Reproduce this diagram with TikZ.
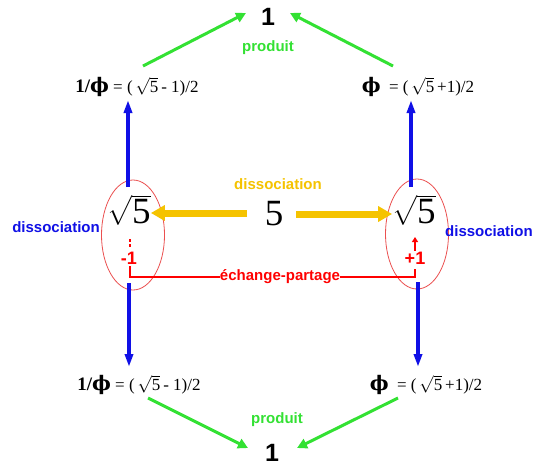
\documentclass[tikz,border=0pt]{standalone}
\usepackage{amsmath}
\usepackage{fontspec}
\setmainfont{Liberation Serif}
\setsansfont{Liberation Sans}
\newfontfamily\phfont{DejaVu Serif}
\usetikzlibrary{arrows.meta,shapes.geometric}
\definecolor{grn}{RGB}{51,225,51}
\definecolor{blu}{RGB}{16,16,230}
\definecolor{yel}{RGB}{245,195,0}
\definecolor{rd}{RGB}{255,0,0}
\definecolor{ellc}{RGB}{235,80,80}
\newcommand{\myphi}{{\phfont\bfseries\fontsize{20}{20}\selectfont ϕ}}
\newcommand{\rtfive}{$\sqrt{\text{5}}$}
\tikzset{
 lbl/.style={font=\sffamily\bfseries\fontsize{15}{15}\selectfont, inner sep=0},
 onebox/.style={font=\sffamily\bfseries\fontsize{25}{25}\selectfont, inner sep=0},
 frm/.style={font=\fontsize{17}{17}\selectfont, inner sep=0},
 bigbox/.style={font=\fontsize{37}{37}\selectfont, inner sep=0},
 garrow/.style={draw=grn, line width=3pt, -{Triangle[length=10pt,width=10pt]}},
 barrow/.style={draw=blu, line width=4pt, -{Triangle[length=13pt,width=8pt]}},
 yarrow/.style={draw=yel, line width=7pt, -{Triangle[length=14pt,width=15pt]}},
 rline/.style={draw=rd, line width=1.8pt},
 ellbox/.style={draw=ellc, line width=0.8pt, ellipse, minimum width=63pt, minimum height=110pt, inner sep=0}
}
\begin{document}
\begin{tikzpicture}[x=1pt,y=-1pt]
\useasboundingbox[fill=white] (0,0) rectangle (551,469);
% top
\node[onebox] (oneT) at (268,17) {1};
\node[lbl, text=grn] (prodT) at (268,48) {produit};
\node[frm] (fTL) at (137,87) {{\bfseries\fontsize{19}{19}\selectfont 1/}\myphi\ = (\,\rtfive\,- 1)/2};
\node[frm] (fTR) at (418,87) {\myphi\ \ = (\,\rtfive\,+1)/2};
\coordinate (gT1) at (143,66);
\coordinate (gT2) at (393,66);
\coordinate (gT1e) at (246,13);
\coordinate (gT2e) at (290,13);
\draw[garrow] (gT1) -- (gT1e);
\draw[garrow] (gT2) -- (gT2e);
% ellipses
\node[ellbox] (eL) at (133,235) {};
\node[ellbox] (eR) at (417,234) {};
\node[bigbox] (sL) at (129,210) {\rtfive};
\node[bigbox] (sR) at (414,210) {\rtfive};
\node[bigbox] (five) at (274,214) {5};
\node[lbl, text=yel] (dissY) at (278,184) {dissociation};
\node[lbl, text=blu, anchor=east] (dissL) at (100,227) {dissociation};
\node[lbl, text=blu, anchor=west] (dissR) at (445,231) {dissociation};
% yellow arrows
\coordinate (yL) at (247,213);
\coordinate (yR) at (296,214);
\draw[yarrow] (yL) -- (sL.east |- yL);
\draw[yarrow] (yR) -- (sR.west |- yR);
% blue arrows
\coordinate (bTL) at (128,187);
\coordinate (bTLe) at (128,100);
\coordinate (bBL) at (129,283);
\coordinate (bBLe) at (129,367);
\coordinate (bTR) at (411,187);
\coordinate (bTRe) at (411,100);
\coordinate (bBR) at (418,282);
\coordinate (bBRe) at (418,367);
\draw[barrow] (bTL) -- (bTLe);
\draw[barrow] (bBL) -- (bBLe);
\draw[barrow] (bTR) -- (bTRe);
\draw[barrow] (bBR) -- (bBRe);
% red
\node[lbl, text=rd, font=\sffamily\bfseries\fontsize{18}{18}\selectfont] (mL) at (129,258) {-1};
\node[lbl, text=rd, font=\sffamily\bfseries\fontsize{18}{18}\selectfont] (pR) at (415,258) {+1};
\node[lbl, text=rd] (ech) at (280,277) {échange-partage};
\coordinate (rL1) at (130,239);
\coordinate (rL2) at (130,247);
\draw[rline, dash pattern=on 3pt off 2pt] (rL1) -- (rL2);
\draw[rline] (mL.south -| rL1) ++(0,2) -- (130,277) -- (ech.west);
\draw[rline] (ech.east) -- (415,277) -- (415,269);
\draw[rline, -{Triangle[length=5pt,width=6pt]}] (pR.north) ++(0,-1) -- (415,237);
% bottom
\node[frm] (fBL) at (139,385) {{\bfseries\fontsize{19}{19}\selectfont 1/}\myphi\ = (\,\rtfive\,- 1)/2};
\node[frm] (fBR) at (426,385) {\myphi\ \ = (\,\rtfive\,+1)/2};
\node[lbl, text=grn] (prodB) at (277,420) {produit};
\node[onebox] (oneB) at (272,453) {1};
\coordinate (gB1) at (148,398);
\coordinate (gB2) at (398,398);
\coordinate (gB1e) at (248,448);
\coordinate (gB2e) at (297,448);
\draw[garrow] (gB1) -- (gB1e);
\draw[garrow] (gB2) -- (gB2e);
\end{tikzpicture}
\end{document}
